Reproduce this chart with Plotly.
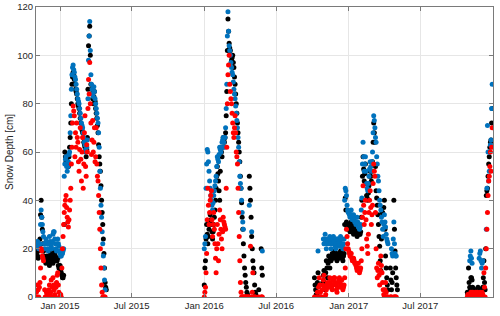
import pandas as pd
import plotly.graph_objects as go

N = None

# ---------------- data ----------------
# each season: readings every 3 days ("main") plus readings half-way between them ("mid")
s1_start = "2014-11-02"
s1_black = [18, 17, 19, 24, 40, 28, 19, 16, 14, 17, 15, 13, 18, 16, 14, 19, 17, 15, 16, 12,
            13, 10, 8, 9, 60, 56, 58, 54, 62, 72, 88, 93, 90, 86, 84, 80, 78, 74, 70, 68,
            64, 62, 58, 66, 104, 112, 88, 84, 80, 85, 78, 74, 68, 58, 52, 40, 30, 18, 6, 3]
s1_black_mid = [19, 16, 22, 34, 33, 22, 17, 15, 16, 16, 14, 16, 17, 15, 17, 18, 16, 15, 13, 12,
                11, 9, 8, 30, 58, 57, 55, 58, 66, 80, 91, 92, 88, 85, 82, 79, 76, 72, 69, 66,
                63, 60, 61, 86, 108, 100, 86, 82, 83, 81, 76, 71, 63, 55, 46, 35, 24, 12, 4]
s1_blue = [21, 23, 20, 22, 36, 30, 25, 20, 24, 22, 19, 25, 22, 20, 26, 27, 22, 19, 24, 21,
           18, 17, 18, 20, 55, 58, 52, 56, 60, 75, 92, 96, 93, 90, 86, 82, 80, 76, 72, 70,
           66, 63, 60, 65, 98, 114, 92, 86, 83, 85, 80, 76, 72, 62, 45, 33, 22, 12, 3]
s1_blue_mid = [22, 21, 21, 30, 33, 27, 22, 22, 23, 20, 22, 23, 21, 23, 27, 24, 20, 22, 22, 19,
               17, 18, 19, 50, 57, 54, 54, 59, 68, 86, 95, 94, 91, 88, 84, 81, 78, 74, 71, 68,
               64, 61, 62, 82, 108, 102, 88, 84, 87, 82, 78, 74, 68, 52, 38, 27, 17, 7]
s1_red = [2, 5, 0, 6, 20, 17, 15, 3, 0, 1, 0, 5, 2, 0, 8, 3, 0, 6, 10, 2,
          0, 0, 20, 30, 38, 42, 33, 29, 36, 45, 62, 79, 75, 68, 72, 64, 52, 70, 48, 66,
          55, 75, 50, 60, 90, 97, 72, 65, 60, 70, 58, 55, 48, 35, 20, 5, 0, 0, 0]
s1_red_mid = [0, 3, 4, 12, 19, 16, 8, 0, 2, 0, 3, 1, 7, 4, 5, 1, 4, 9, 5, 0,
              1, 12, 25, 35, 40, 37, 31, 32, 40, 55, 72, 77, 58, 62, 66, 56, 61, 57, 60, 45,
              68, 54, 63, 78, 84, 80, 59, 73, 64, 56, 70, 50, 42, 28, 12, 2, 0, 0]

s2_start = "2016-01-01"
s2_black = [5, 15, 30, 22, 28, 34, 30, 24, 30, 36, 45, 54, 48, 40, 62, 58, 66, 64, 68, 85,
            115, 105, 102, 98, 100, 95, 88, 80, 72, 64, 56, 45, 33, 22, 12, 6, 2, 0, 50, 40,
            25, 15, 10, 2, 0, N, 3, N, 20, 9]
s2_black_mid = [12, 24, 26, 25, 31, 32, 27, 27, 33, 40, 50, 51, 44, 52, 60, 62, 65, 66, 75, 102,
                110, 103, 100, 99, 97, 91, 84, 76, 68, 60, 50, 39, 28, 17, 9, 4, 1, N, 45, 33,
                20, 12, 5, 1, N, N, N, N, 12]
s2_blue = [20, 25, 55, 60, 52, 45, 40, 36, 42, 46, 50, 58, 56, 62, 60, 64, 66, 62, 70, 88,
           118, 104, 100, 95, 92, 86, 82, 76, 70, 62, 50, 45, 35, 28, N, N, N, N, 38, N,
           27, N, N, N, N, N, N, N, N, 19]
s2_blue_mid = [22, 45, 61, 56, 48, 42, 38, 39, 44, 48, 54, 57, 59, 61, 62, 65, 64, 66, 78, 108,
               110, 102, 97, 93, 89, 84, 79, 73, 66, 56, 47, 40, 31]
s2_red = [0, 4, 18, 45, 30, 40, 44, 25, 35, 22, 10, 30, 15, 36, 28, 20, 33, 30, 28, 62,
          92, 100, 85, 80, 72, 66, 75, 60, 55, 35, 15, 2, 0, 0, 0, 0, 0, 0, 0, 21,
          0, 10, 0, 0, N, N, 0, N, 0, 0]
s2_red_mid = [2, 10, 32, 38, 35, 42, 32, 30, 28, 16, 20, 22, 26, 32, 24, 27, 31, 29, 45, 80,
              96, 88, 82, 76, 68, 70, 68, 58, 45, 25, 6, 0, 0, 0, 0, 0, 0, 0, N, N,
              2, N, 0, N, N, N, N, N, 0]

s3_start = "2016-10-06"
s3_black = [8, 3, 0, 10, 5, N, N, 6, 11, 3, 15, 8, 17, 12, 15, 18, 16, 19, 17, 15,
            18, 16, 19, 17, 15, 18, 41, 31, 28, 30, 27, 31, 28, 26, 29, 27, 25, 28, 26, 27,
            40, 58, 48, 55, 42, 40, 46, 52, 48, 56, 72, 64, 44, 38, 30, 21, 11, 35, 34, 40,
            17, 8, 3, N, 12, 3, 10, 40, 19, 8, 3]
s3_black_mid = [5, 1, 6, 2, N, N, N, 9, 6, 10, 12, 14, 15, 16, 17, 17, 18, 18, 16, 17,
                17, 18, 18, 16, 17, 30, 36, 29, 29, 28, 29, 30, 27, 28, 28, 26, 27, 27, 26, 33,
                50, 53, 51, 47, 41, 43, 50, 50, 52, 64, 68, 54, 41, 34, 25, 15, 24, 35, 37, 28,
                12, 5, N, N, 7, 6, N, 28, 12, 5]
s3_blue = [N, N, N, 19, N, N, N, N, 22, 26, 20, 24, 22, 25, 20, 23, 25, 22, 20, 24,
           23, 21, 25, 22, 20, 24, 45, 42, 36, 35, 33, 36, 32, 34, 31, 30, 33, 29, 28, 30,
           41, 64, 52, 58, 47, 44, 50, 56, 52, 60, 75, 70, 64, 55, 48, 40, 36, 31, 25, 34,
           29, 24, 22, N, N, 20, 17, 31, 18, 17, N]
s3_blue_mid = [N, N, N, N, N, N, N, 24, 24, 23, 22, 23, 24, 22, 22, 24, 23, 21, 22, 24,
               22, 23, 24, 21, 22, 40, 44, 38, 35, 34, 34, 34, 33, 32, 31, 31, 31, 29, 29, 36,
               55, 58, 55, 52, 45, 47, 53, 54, 56, 68, 73, 66, 58, 50, 44, 38, 33, 28, 30, 31,
               26, 23, N, N, N, 18, 24, 22, 17, N]
s3_red = [0, N, 0, 0, 8, 2, 0, 5, 9, 0, 3, 6, 4, 8, 5, 3, 7, 8, 5, 2,
          6, 8, 4, 7, 3, 5, 12, 28, 22, 19, 17, 18, 15, 16, 14, 13, 11, 14, 10, 12,
          20, 46, 30, 40, 24, 18, 35, 44, 30, 38, 55, 50, 20, 8, 14, 5, 17, 10, 3, 0,
          6, 0, 0, N, 0, 0, N, 0, 0, 0, N]
s3_red_mid = [N, N, 2, 4, 5, 0, 3, 7, 4, 1, 5, 5, 6, 6, 4, 5, 8, 6, 3, 4,
              7, 6, 5, 5, 4, 8, 20, 25, 20, 18, 18, 16, 16, 15, 14, 12, 12, 12, 11, 15,
              33, 38, 35, 32, 21, 26, 40, 37, 34, 47, 52, 35, 12, 11, 9, 11, 13, 6, 1, 3,
              2, 0, N, N, 0, N, N, 0, 0, N]

s4_start = "2017-10-28"
s4_black = [2, 12, 4, 8, 7, 2, 3, 1, 2, 4, 1, 3, 2, 4, 15, 3, 42, 45, 55, 62, 65, 78]
s4_black_mid = [1, 6, 3, 8, 4, 1, 2, 3, 1, 2, 3, 1, 3, 8, 6, 20, 44, 50, 58, 64, 72]
s4_blue = [N, N, 15, 19, 14, N, N, N, N, N, 16, 19, 12, 15, N, N, 28, 71, 48, 60, 65, 88]
s4_blue_mid = [N, N, 17, 16, N, N, N, N, N, N, 18, 15, 14, N, N, N, 45, 60, 52, 63, 78]
s4_red = [0, 1, 0, 2, 0, 1, 0, 2, 0, 1, 0, 2, 0, 1, 10, 0, 20, 35, 48, 54, 52, 70]
s4_red_mid = [1, 0, 1, 0, 2, 0, 1, 0, 2, 0, 1, 0, 2, 0, 4, 12, 28, 42, 50, 60, 62]

x_tick_vals = ["2015-01-01", "2015-07-01", "2016-01-01", "2016-07-01", "2017-01-01", "2017-07-01"]
x_tick_text = ["Jan 2015", "Jul 2015", "Jan 2016", "Jul 2016", "Jan 2017", "Jul 2017"]
y_tick_vals = [0, 20, 40, 60, 80, 100, 120]
y_label = "Snow Depth [cm]"

seasons = [
    (s1_start, (s1_black, s1_black_mid), (s1_blue, s1_blue_mid), (s1_red, s1_red_mid)),
    (s2_start, (s2_black, s2_black_mid), (s2_blue, s2_blue_mid), (s2_red, s2_red_mid)),
    (s3_start, (s3_black, s3_black_mid), (s3_blue, s3_blue_mid), (s3_red, s3_red_mid)),
    (s4_start, (s4_black, s4_black_mid), (s4_blue, s4_blue_mid), (s4_red, s4_red_mid)),
]


def series(idx):
    xs, ys = [], []
    for s in seasons:
        main, mid = s[idx]
        d = pd.date_range(s[0], periods=len(main), freq="3D")
        dm = d[:len(mid)] + pd.Timedelta(hours=36)
        xs += list(d) + list(dm)
        ys += list(main) + list(mid)
    return xs, ys


fig = go.Figure()
colors = {1: "#000000", 2: "#0072BD", 3: "#FF0000"}
for idx in (1, 2, 3):
    xs, ys = series(idx)
    fig.add_trace(go.Scatter(x=xs, y=ys, mode="markers",
                             marker=dict(size=5, color=colors[idx], line=dict(width=0)),
                             showlegend=False, hoverinfo="skip"))

axis_common = dict(showline=True, linecolor="#7a7a7a", linewidth=1, mirror="ticks",
                   ticks="inside", ticklen=4, tickcolor="#7a7a7a",
                   showgrid=True, gridcolor="#e6e6e6", gridwidth=1, zeroline=False,
                   tickfont=dict(family="Liberation Sans, Arial, sans-serif", size=9.5, color="#262626"))

fig.update_layout(
    width=500, height=316,
    margin=dict(l=36, r=7, t=7, b=19),
    paper_bgcolor="white", plot_bgcolor="white",
    xaxis=dict(range=["2014-11-01", "2018-01-01"], tickvals=x_tick_vals, ticktext=x_tick_text,
               automargin=False, **axis_common),
    yaxis=dict(range=[0, 120], tickvals=y_tick_vals, automargin=False, **axis_common),
    annotations=[dict(text=y_label, xref="paper", yref="paper", x=-0.059, y=0.5,
                      xanchor="center", yanchor="middle", textangle=-90, showarrow=False,
                      font=dict(family="Liberation Sans, Arial, sans-serif", size=10, color="#262626"))],
)

fig.write_html("out.html", config={"displayModeBar": False},
               post_script="document.body.style.margin='0';")
